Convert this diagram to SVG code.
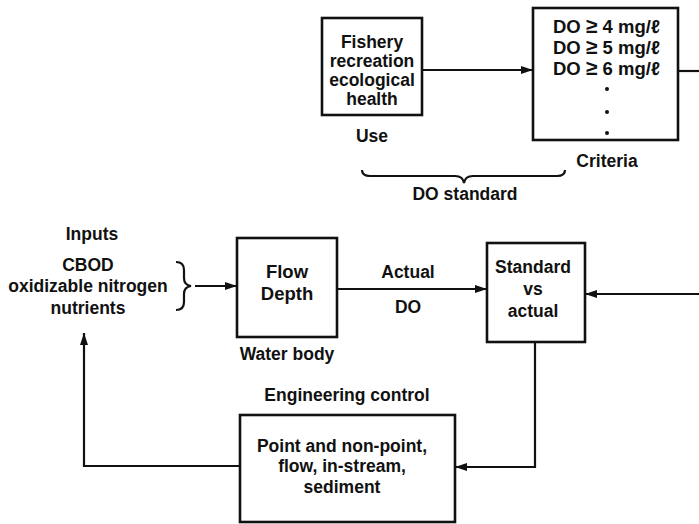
<svg xmlns="http://www.w3.org/2000/svg" width="699" height="524" viewBox="0 0 699 524">
<defs>
<style>
text{font-family:"Liberation Sans",Arial,sans-serif;font-weight:bold;font-size:17.5px;fill:#111;text-anchor:middle}
.box{fill:#fff;stroke:#111;stroke-width:2.6}
.ln{fill:none;stroke:#111;stroke-width:2.2}
.st{text-anchor:start;font-size:18.5px}
.big{font-size:18.5px}
.ge{font-size:21px}
</style>
<marker id="ah" viewBox="0 0 12 8" refX="12" refY="4" markerWidth="12" markerHeight="8" markerUnits="userSpaceOnUse" orient="auto">
<path d="M0,0 L12,4 L0,8 Z" fill="#111"/>
</marker>
</defs>
<rect width="699" height="524" fill="#fff"/>
<g id="connectors">
<line class="ln" x1="422" y1="70" x2="533" y2="70" marker-end="url(#ah)"/>
<line class="ln" x1="678" y1="71" x2="699" y2="71"/>
<line class="ln" x1="195" y1="286" x2="237" y2="286" marker-end="url(#ah)"/>
<line class="ln" x1="337" y1="289" x2="487" y2="289" marker-end="url(#ah)"/>
<line class="ln" x1="699" y1="294" x2="585" y2="294" marker-end="url(#ah)"/>
<polyline class="ln" points="535,342 535,467 455,467" marker-end="url(#ah)"/>
<polyline class="ln" points="240,466 84,466 84,333" marker-end="url(#ah)"/>
<path class="ln" d="M362,170 Q362,176 370,176 L455,176 Q463,176 464,183 Q465,176 473,176 L557,176 Q565,176 565,170" stroke-width="1.8"/>
<path class="ln" d="M176,262 Q184,262 184,270 L184,278 Q184,285 191,286 Q184,287 184,294 L184,302 Q184,310 176,310" stroke-width="1.8"/>
</g>
<g id="use">
<rect class="box" x="322" y="18" width="100" height="97"/>
<text x="372" y="48">Fishery</text>
<text x="372" y="67">recreation</text>
<text x="372" y="86">ecological</text>
<text x="372" y="105">health</text>
<text x="372" y="142">Use</text>
</g>
<g id="criteria">
<rect class="box" x="533" y="8" width="145" height="132"/>
<text class="st" x="553" y="33">DO <tspan class="ge">≥</tspan> 4 mg/ℓ</text>
<text class="st" x="553" y="54">DO <tspan class="ge">≥</tspan> 5 mg/ℓ</text>
<text class="st" x="553" y="75">DO <tspan class="ge">≥</tspan> 6 mg/ℓ</text>
<circle cx="607" cy="89" r="2" fill="#111"/>
<circle cx="607" cy="112" r="2" fill="#111"/>
<circle cx="607" cy="133" r="2" fill="#111"/>
<text x="607" y="167">Criteria</text>
</g>
<g id="do-standard">
<text x="465" y="200">DO standard</text>
</g>
<g id="inputs">
<text x="92" y="240">Inputs</text>
<text x="88" y="271">CBOD</text>
<text x="88" y="292">oxidizable nitrogen</text>
<text x="88" y="314">nutrients</text>
</g>
<g id="water-body">
<rect class="box" x="237" y="238" width="100" height="99"/>
<text class="big" x="287" y="278">Flow</text>
<text class="big" x="287" y="300">Depth</text>
<text x="287" y="360">Water body</text>
</g>
<g id="actual-do">
<text x="408" y="278">Actual</text>
<text x="408" y="313">DO</text>
</g>
<g id="standard-vs-actual">
<rect class="box" x="487" y="243" width="98" height="99"/>
<text x="533" y="273">Standard</text>
<text x="533" y="295">vs</text>
<text x="533" y="317">actual</text>
</g>
<g id="engineering-control">
<text x="347" y="401">Engineering control</text>
<rect class="box" x="240" y="415" width="215" height="107"/>
<text x="342" y="452">Point and non-point,</text>
<text x="342" y="472">flow, in-stream,</text>
<text x="342" y="493">sediment</text>
</g>
</svg>
